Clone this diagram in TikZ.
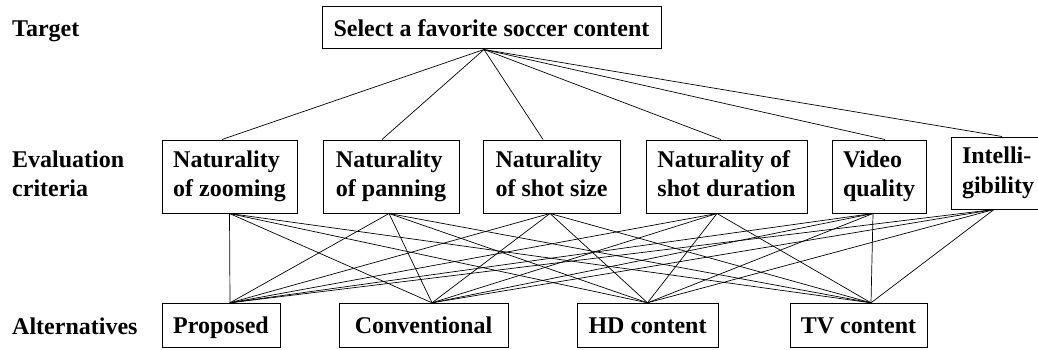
\documentclass[tikz,border=0pt]{standalone}
\usepackage{fontspec}
\setmainfont{Liberation Serif}
\usetikzlibrary{positioning}

\begin{document}
\begin{tikzpicture}[x=1pt, y=-1pt, font=\fontsize{24}{29.5}\selectfont\bfseries,
		box/.style={draw, line width=1pt, inner sep=0pt},
		oneline/.style={text height=23pt, text depth=6pt},
		twoline/.style={align=left, execute at begin node={\rule{0pt}{22.5pt}}, execute at end node={\rule[-6pt]{0pt}{6pt}}},
		tag/.style={inner sep=0pt},
		link/.style={line width=0.7pt}]
			\useasboundingbox (0,0) rectangle (1038,350);

			\node (TL)[tag, anchor=base west] at (12,36.5) {Target};
			\node (EL)[tag, twoline, anchor=west] at (12,176.5) {Evaluation\\criteria};
			\node (AL)[tag, anchor=base west] at (12,334) {Alternatives};

			\node (goal)[box, oneline, minimum width=339, minimum height=42] at (491.5,28) {Select a favorite soccer content};

			\node (c1)[box, twoline, minimum width=135, minimum height=73] at (229.5,176.5) {Naturality\\of zooming};
			\node (c2)[box, twoline, minimum width=136, minimum height=73] at (391,176.5) {Naturality\\of panning};
			\node (c3)[box, twoline, minimum width=137, minimum height=73] at (551.5,176.5) {Naturality\\of shot size};
			\node (c4)[box, twoline, minimum width=161, minimum height=73] at (726.5,176.5) {Naturality of\\shot duration};
			\node (c5)[box, twoline, minimum width=94, minimum height=73] at (879,176.5) {Video\\quality};
			\node (c6)[box, twoline, minimum width=94, minimum height=72] at (998,173) {Intelli-\\gibility};

			\node (a1)[box, oneline, minimum width=118, minimum height=44] at (221,325.3) {Proposed};
			\node (a2)[box, oneline, minimum width=169, minimum height=44] at (423.5,325.3) {Conventional};
			\node (a3)[box, oneline, minimum width=141, minimum height=44] at (647.5,325.3) {HD content};
			\node (a4)[box, oneline, minimum width=137, minimum height=44] at (858.5,325.3) {TV content};

			% meeting points of the links
			\coordinate (gs) at ([xshift=-7.5]goal.south);
			\coordinate (c1n) at ([xshift=-7.5]c1.north);
			\coordinate (c2n) at ([xshift=-9]c2.north);
			\coordinate (c3n) at ([xshift=-8.5]c3.north);
			\coordinate (c4n) at ([xshift=-5.5]c4.north);
			\coordinate (c5n) at ([xshift=6]c5.north);
			\coordinate (c6n) at ([xshift=4]c6.north);
			\coordinate (c1s) at (c1.south);
			\coordinate (c2s) at ([xshift=-2]c2.south);
			\coordinate (c3s) at ([xshift=-1.5]c3.south);
			\coordinate (c4s) at ([xshift=-9.5]c4.south);
			\coordinate (c5s) at ([xshift=-6]c5.south);
			\coordinate (c6s) at ([xshift=-4]c6.south);
			\coordinate (a1n) at ([xshift=9]a1.north);
			\coordinate (a2n) at ([xshift=8.5]a2.north);
			\coordinate (a3n) at (a3.north);
			\coordinate (a4n) at ([xshift=12.5]a4.north);

			\draw[link] (gs) -- (c1n);
			\draw[link] (gs) -- (c2n);
			\draw[link] (gs) -- (c3n);
			\draw[link] (gs) -- (c4n);
			\draw[link] (gs) -- (c5n);
			\draw[link] (gs) -- (c6n);

			\draw[link] (c1s) -- (a1n);
			\draw[link] (c1s) -- (a2n);
			\draw[link] (c1s) -- (a3n);
			\draw[link] (c1s) -- (a4n);
			\draw[link] (c2s) -- (a1n);
			\draw[link] (c2s) -- (a2n);
			\draw[link] (c2s) -- (a3n);
			\draw[link] (c2s) -- (a4n);
			\draw[link] (c3s) -- (a1n);
			\draw[link] (c3s) -- (a2n);
			\draw[link] (c3s) -- (a3n);
			\draw[link] (c3s) -- (a4n);
			\draw[link] (c4s) -- (a1n);
			\draw[link] (c4s) -- (a2n);
			\draw[link] (c4s) -- (a3n);
			\draw[link] (c4s) -- (a4n);
			\draw[link] (c5s) -- (a1n);
			\draw[link] (c5s) -- (a2n);
			\draw[link] (c5s) -- (a3n);
			\draw[link] (c5s) -- (a4n);
			\draw[link] (c6s) -- (a1n);
			\draw[link] (c6s) -- (a2n);
			\draw[link] (c6s) -- (a3n);
			\draw[link] (c6s) -- (a4n);
		\end{tikzpicture}
\end{document}
